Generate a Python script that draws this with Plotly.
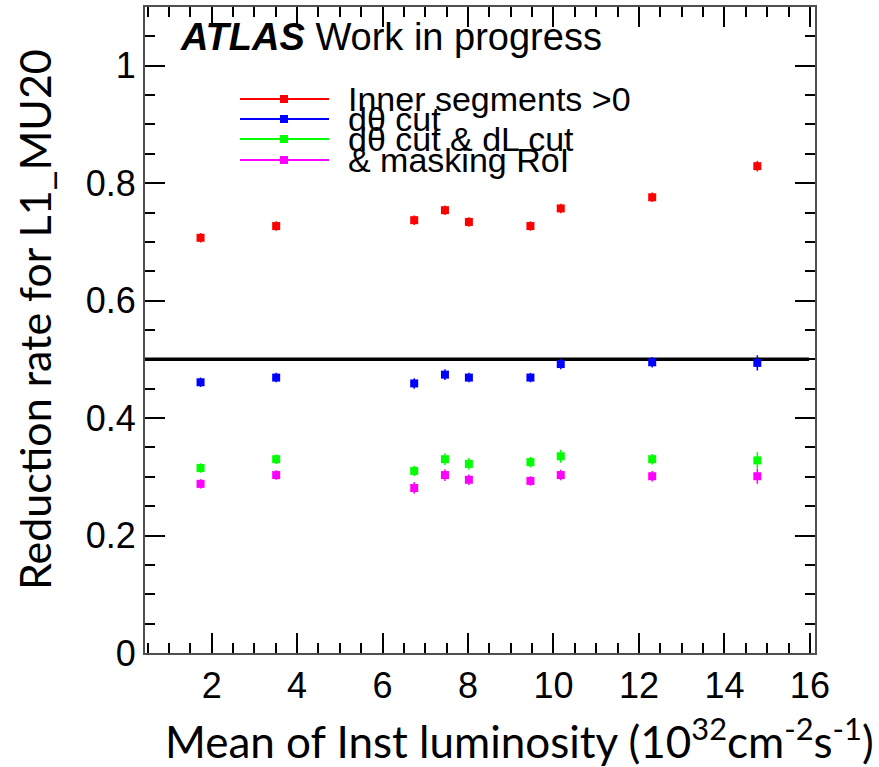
import plotly.graph_objects as go

# Data
lumi = [1.74, 3.51, 6.74, 7.46, 8.02, 9.46, 10.17, 12.31, 14.77]
inner_seg = [0.707, 0.727, 0.737, 0.754, 0.734, 0.727, 0.757, 0.776, 0.829]
inner_seg_err = [0.008, 0.008, 0.008, 0.008, 0.008, 0.008, 0.008, 0.008, 0.009]
dtheta = [0.461, 0.469, 0.459, 0.474, 0.469, 0.469, 0.492, 0.495, 0.494]
dtheta_err = [0.008, 0.008, 0.009, 0.009, 0.008, 0.008, 0.009, 0.009, 0.013]
dtheta_dl = [0.315, 0.330, 0.310, 0.330, 0.322, 0.325, 0.335, 0.330, 0.328]
dtheta_dl_err = [0.008, 0.008, 0.009, 0.010, 0.010, 0.009, 0.011, 0.009, 0.014]
masking = [0.288, 0.303, 0.281, 0.303, 0.295, 0.293, 0.303, 0.301, 0.301]
masking_err = [0.008, 0.008, 0.010, 0.010, 0.009, 0.008, 0.009, 0.009, 0.013]

series_names = ["Inner segments >0", "d\u03b8 cut", "d\u03b8 cut & dL cut", "& masking RoI"]
series_colors = ["#ff0000", "#0000ff", "#00ff00", "#ff00ff"]
series_vals = [inner_seg, dtheta, dtheta_dl, masking]
series_errs = [inner_seg_err, dtheta_err, dtheta_dl_err, masking_err]

x_range = [0.44, 16.12]
y_range = [0.0, 1.1]
ref_level = 0.5
x_ticks = [2, 4, 6, 8, 10, 12, 14, 16]
y_ticks = [0, 0.2, 0.4, 0.6, 0.8, 1]
y_ticklabels = ["0", "0.2", "0.4", "0.6", "0.8", "1"]

fig = go.Figure()

# reference line at 0.5
fig.add_trace(go.Scatter(x=[x_range[0], 15.98], y=[ref_level, ref_level], mode="lines",
                         line=dict(color="black", width=3.5), showlegend=False, hoverinfo="skip"))

for name, col, vals, errs in zip(series_names, series_colors, series_vals, series_errs):
    fig.add_trace(go.Scatter(
        x=lumi, y=vals, mode="markers", name=name,
        marker=dict(symbol="square", size=8, color=col),
        error_y=dict(type="data", array=errs, color=col, thickness=1.5, width=0),
        showlegend=False))

# Plot area in pixels: left 145, right 815, top 7, bottom 653
W, H = 879, 767
L, R, T, B = 145, 815, 7, 653


def px(x):
    return (x - L) / (R - L)


def py(y):
    return (B - y) / (B - T)


shapes = []
annotations = []
leg_y = [99, 119, 139, 160]
for name, col, yy in zip(series_names, series_colors, leg_y):
    shapes.append(dict(type="line", xref="paper", yref="paper", x0=px(240), x1=px(329),
                       y0=py(yy), y1=py(yy), line=dict(color=col, width=2)))
    shapes.append(dict(type="rect", xref="paper", yref="paper", x0=px(280), x1=px(288),
                       y0=py(yy + 4), y1=py(yy - 4), line=dict(width=0), fillcolor=col))
    annotations.append(dict(text=name, xref="paper", yref="paper", x=px(346), y=py(yy),
                            xanchor="left", yanchor="middle", showarrow=False,
                            font=dict(family="Liberation Sans, Arial", size=34, color="black")))

annotations.append(dict(text="<b><i>ATLAS</i></b> Work in progress", xref="paper", yref="paper",
                        x=px(178), y=py(37), xanchor="left", yanchor="middle", showarrow=False,
                        font=dict(family="Liberation Sans, Arial", size=38, color="black")))

annotations.append(dict(text="Mean of Inst luminosity (10<sup>32</sup>cm<sup>-2</sup>s<sup>-1</sup>)",
                        xref="paper", yref="paper", x=px(876), y=py(738), xanchor="right", yanchor="middle",
                        showarrow=False, font=dict(family="Lato, Open Sans", size=44, color="black")))

annotations.append(dict(text="Reduction rate for L1_MU20", xref="paper", yref="paper",
                        x=px(34), y=py(320), xanchor="center", yanchor="middle", textangle=-90,
                        showarrow=False, font=dict(family="Lato, Open Sans", size=43, color="black")))

axis_common = dict(showgrid=False, zeroline=False, showline=True, linecolor="#505050", linewidth=2,
                   mirror="allticks", ticks="inside", tickcolor="black", tickwidth=1.5, ticklen=20,
                   tickfont=dict(family="Liberation Sans, Arial", size=36, color="black"))

fig.update_layout(
    width=W, height=H,
    margin=dict(l=L, r=W - R, t=T, b=H - B, autoexpand=False),
    paper_bgcolor="white", plot_bgcolor="white",
    shapes=shapes, annotations=annotations, showlegend=False,
    xaxis=dict(range=x_range, tickvals=x_ticks, ticktext=[str(v) for v in x_ticks],
               minor=dict(dtick=0.5, tick0=0, ticks="inside", ticklen=10, tickcolor="black", tickwidth=1.5),
               **axis_common),
    yaxis=dict(range=y_range, tickvals=y_ticks, ticktext=y_ticklabels,
               minor=dict(dtick=0.05, tick0=0, ticks="inside", ticklen=10, tickcolor="black", tickwidth=1.5),
               **axis_common),
)

fig.write_html("out.html")
